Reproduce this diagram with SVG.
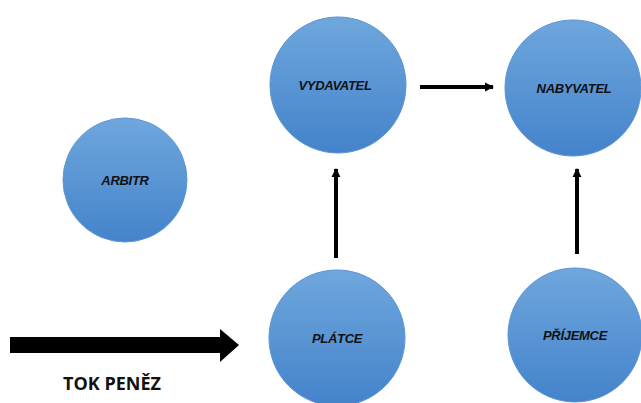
<svg xmlns="http://www.w3.org/2000/svg" width="641" height="403" viewBox="0 0 641 403">
<defs>
<linearGradient id="g" x1="0" y1="0" x2="0" y2="1">
<stop offset="0" stop-color="#6fa7dd"/>
<stop offset="1" stop-color="#4483cb"/>
</linearGradient>
<marker id="ah" viewBox="0 0 10 10" refX="9" refY="5" markerWidth="2.3" markerHeight="2.3" orient="auto">
<path d="M0,0 L10,5 L0,10 z" fill="#000"/>
</marker>
<style>
.n{fill:url(#g);stroke:#5b95d3;stroke-width:1}
.t{font-family:"Liberation Sans",Arial,sans-serif;font-weight:bold;font-style:italic;font-size:13px;fill:#111;text-anchor:middle;letter-spacing:-0.3px}
.c{stroke:#000;stroke-width:4;fill:none;marker-end:url(#ah)}
</style>
</defs>
<rect width="641" height="403" fill="#fff"/>
<g id="arbitr"><circle class="n" cx="125" cy="180" r="62"/><text class="t" x="125" y="185">ARBITR</text></g>
<g id="vydavatel"><circle class="n" cx="338" cy="85" r="68"/><text class="t" x="335" y="90">VYDAVATEL</text></g>
<g id="nabyvatel"><circle class="n" cx="573" cy="88" r="68"/><text class="t" x="574" y="93">NABYVATEL</text></g>
<g id="platce"><circle class="n" cx="337" cy="338" r="68"/><text class="t" x="337" y="343">PLÁTCE</text></g>
<g id="prijemce"><circle class="n" cx="575" cy="335" r="67"/><text class="t" x="575" y="340">PŘÍJEMCE</text></g>
<g id="connectors">
<line class="c" x1="420" y1="87" x2="493" y2="87"/>
<line class="c" x1="336" y1="258" x2="336" y2="169"/>
<line class="c" x1="577" y1="254" x2="577" y2="169"/>
<path d="M10,337 H220 V329 L239,345 L220,362 V353 H10 Z" fill="#000"/>
</g>
<text x="112" y="390" font-family="'Open Sans','Liberation Sans',sans-serif" font-weight="bold" font-size="18" text-anchor="middle" fill="#111">TOK PENĚZ</text>
</svg>
